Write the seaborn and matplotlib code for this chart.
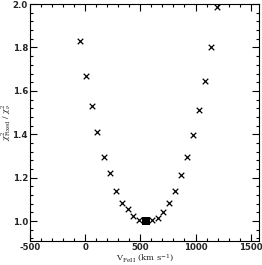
import matplotlib
matplotlib.use("Agg")
import matplotlib.pyplot as plt
import seaborn as sns
import pandas as pd
from matplotlib.ticker import MultipleLocator

# Data
velocity = [-47, 7, 61, 109, 170, 224, 276, 333, 384, 429, 489,
            601, 656, 706, 761, 812, 867, 927, 975, 1032, 1084, 1138, 1192]
chi_ratio = [1.828, 1.668, 1.530, 1.412, 1.295, 1.223, 1.140, 1.084, 1.054, 1.023, 1.003,
             1.005, 1.014, 1.041, 1.084, 1.140, 1.211, 1.295, 1.395, 1.512, 1.647, 1.803, 1.985]
best_velocity = [547]
best_ratio = [1.0]

sns.set_style("ticks")
plt.rcParams['font.family'] = ['DejaVu Sans']
plt.rcParams['mathtext.fontset'] = 'dejavuserif'

fig = plt.figure(figsize=(2.62, 2.65), dpi=100)
ax = fig.add_axes([0.1145, 0.0906, 0.874, 0.894])

df = pd.DataFrame({"v": velocity, "r": chi_ratio})
dfb = pd.DataFrame({"v": best_velocity, "r": best_ratio})
sns.scatterplot(data=df, x="v", y="r", marker="x", s=16, color="black",
                linewidth=0.9, ax=ax, legend=False)
sns.scatterplot(data=dfb, x="v", y="r", marker="s", s=34, color="black",
                linewidth=0, ax=ax, legend=False)

ax.set_xlim(-500, 1575)
ax.set_ylim(0.908, 2.0)
ax.xaxis.set_minor_locator(MultipleLocator(100))
ax.yaxis.set_minor_locator(MultipleLocator(0.04))
ax.tick_params(which="both", direction="in", top=True, right=True, width=0.8, color="black")
ax.tick_params(which="major", length=5, labelsize=6.2, pad=1.5)
ax.tick_params(which="minor", length=2.5)
ax.set_yticks([1.0, 1.2, 1.4, 1.6, 1.8, 2.0])
ax.set_yticklabels(["1.0", "1.2", "1.4", "1.6", "1.8", "2.0"], fontweight="bold")
ax.set_xticks([-500, 0, 500, 1000, 1500])
ax.set_xticklabels(["-500", "0", "500", "1000", "1500"], fontweight="bold")
for s in ax.spines.values():
    s.set_linewidth(0.8)
    s.set_color("black")

ax.set_xlabel(r"$\mathrm{V_{FeII}\ (km\ s^{-1})}$", fontsize=6, labelpad=0.5)
ax.set_ylabel(r"$\chi^2_{\mathrm{Fixed}}\ /\ \chi^2_{\nu}$", fontsize=5.5, va="center")
ax.yaxis.set_label_coords(-0.102, 0.5)

fig.savefig("out.png", dpi=100)
